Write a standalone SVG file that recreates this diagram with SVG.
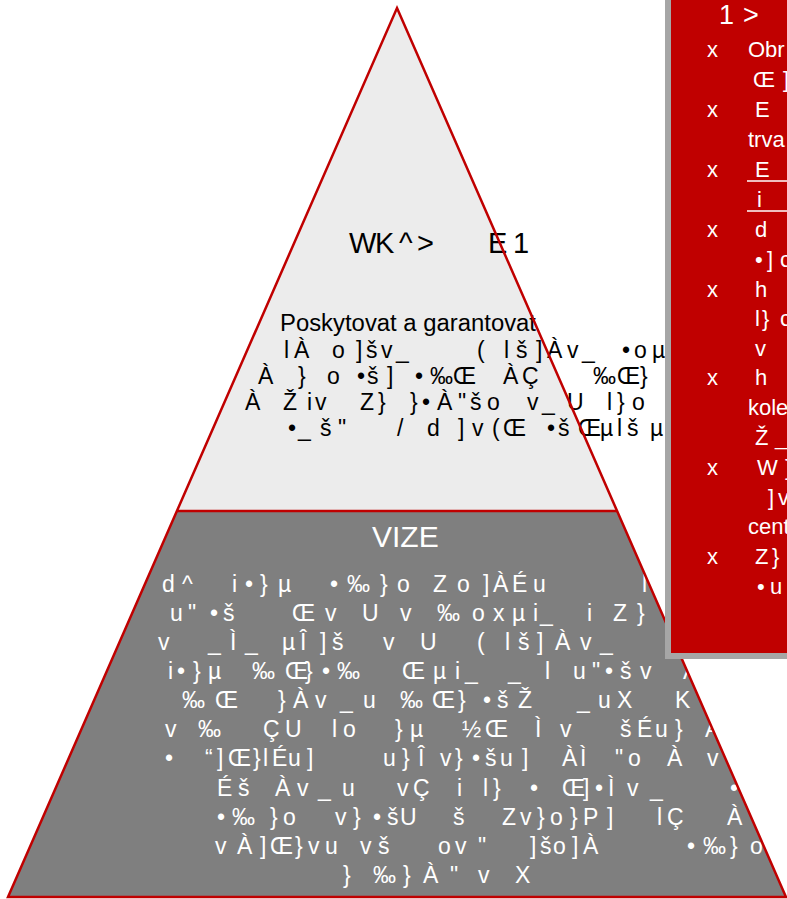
<svg xmlns="http://www.w3.org/2000/svg" width="787" height="899" viewBox="0 0 787 899">
<style>
text{font-family:"Liberation Sans",Arial,sans-serif;font-size:23px}
.k{fill:#000}
.w{fill:#fff}
.ttl{font-size:29px}
.vz{font-size:30px}
.bx{font-size:22px}
.outline{fill:none;stroke:#c00000;stroke-width:2.5;stroke-linejoin:miter}
</style>
<g id="pyramid-fills">
<polygon points="397,8 617,511 177,511" fill="#ececec"/>
<polygon points="177,511 617,511 786,897 8,897" fill="#7f7f7f"/>
</g>
<g id="node-top">
<text class="k ttl" x="349 375 399 417 488 513" y="253">WK^&gt;E1</text>
<text class="k" x="280" y="331" textLength="256" lengthAdjust="spacingAndGlyphs">Poskytovat a garantovat</text>
<text class="k" x="284 294 332 356 366 381 396 477 504 516 536 547 567 582 622 634 652" y="358">lÀo]šv_(lš]Àv_•oµ</text>
<text class="k" x="258 298 327 357 367 387 415 430 453 503 522 593 617 640" y="384">À}o•š]•‰ŒÀÇ‰Œ}</text>
<text class="k" x="245 283 307 315 360 378 410 422 437 458 470 487 527 542 567 607 617 632" y="410">ÀŽivZ}}•À"šov_Ul}o</text>
<text class="k" x="288 298 320 338 397 427 458 472 492 503 547 558 578 600 617 627 650" y="436">•_š"/d]v(Œ•šŒµlšµ</text>
</g>
<g id="node-bottom">
<text class="w vz" x="372" y="547">VIZE</text>
<text class="w" x="162 182 232 245 260 278 330 347 380 397 433 457 483 493 512 533 642" y="592">d^i•}µ•‰}oZo]ÀÉul</text>
<text class="w" x="170 188 210 223 292 325 362 400 437 472 493 512 533 540 587 613 637" y="621">u"•šŒvUv‰oxµi_iZ}</text>
<text class="w" x="158 208 230 245 282 300 320 332 383 420 477 505 518 537 555 580 600" y="650">v_Ì_µÎ]švU(lš]Àv_</text>
<text class="w" x="168 177 193 208 252 285 305 322 337 402 433 455 465 508 545 573 592 605 620 640 683" y="679">i•}µ‰Œ}•‰Œµi__lu"•švÀ</text>
<text class="w" x="182 215 278 293 315 340 363 400 432 458 483 497 518 577 598 617 675" y="708">‰Œ}Àv_u‰Œ}•šŽ_uXK</text>
<text class="w" x="165 198 263 285 332 343 395 410 462 485 535 560 620 637 655 675 705" y="737">v‰ÇUlo}µ½ŒÌvšÉu}À</text>
<text class="w" x="165 205 217 228 253 263 272 288 307 383 402 418 440 455 472 485 500 522 562 580 615 628 667 707" y="766">•“]Œ}lÉu]u}Îv}•šu]ÀÌ"oÀv</text>
<text class="w" x="217 238 275 297 318 342 397 413 457 483 493 530 562 583 595 608 627 650 730" y="796">ÉšÀv_uvÇil}•Œ]•Ìv_•</text>
<text class="w" x="217 232 270 283 335 353 373 387 400 453 502 520 537 550 570 583 607 657 667 727 755" y="825">•‰}ov}•šUšZv}o}P]lÇÀÇ</text>
<text class="w" x="215 237 260 270 295 308 325 360 378 438 455 478 530 540 553 572 583 687 703 730 750" y="854">vÀ]Œ}vuvšov"]šo]À•‰}o</text>
<text class="w" x="343 373 403 423 450 478 515" y="883">}‰}À"vX</text>
</g>
<g id="pyramid-outline">
<polygon class="outline" points="397,8 786,897 8,897"/>
<line class="outline" x1="177" y1="511" x2="617" y2="511"/>
</g>
<g id="node-box">
<rect x="668" y="-10" width="130" height="666" fill="#c00000" stroke="#a6a6a6" stroke-width="6"/>
<text class="w" style="font-size:27px" x="719 743" y="24">1&gt;</text>
<g class="bullets">
<text class="w bx" x="707" y="57">x</text>
<text class="w bx" x="707" y="117">x</text>
<text class="w bx" x="707" y="177">x</text>
<text class="w bx" x="707" y="237">x</text>
<text class="w bx" x="707" y="297">x</text>
<text class="w bx" x="707" y="385">x</text>
<text class="w bx" x="707" y="475">x</text>
<text class="w bx" x="707" y="564">x</text>
</g>
<text class="w bx" x="748" y="57">Obr</text>
<text class="w bx" x="753 783" y="87">Œ]</text>
<text class="w bx" x="755" y="117">E</text>
<text class="w bx" x="748" y="147">trva</text>
<text class="w bx" x="755" y="177">E</text>
<line x1="747" y1="181" x2="790" y2="181" stroke="#fff" stroke-width="1.5"/>
<text class="w bx" x="757" y="207">i</text>
<line x1="747" y1="211" x2="790" y2="211" stroke="#fff" stroke-width="1.5"/>
<text class="w bx" x="755" y="237">d</text>
<text class="w bx" x="755 767 780" y="267">•]c</text>
<text class="w bx" x="755" y="297">h</text>
<text class="w bx" x="755 762 780" y="326">l}c</text>
<text class="w bx" x="755" y="356">v</text>
<text class="w bx" x="755" y="385">h</text>
<text class="w bx" x="748" y="415">kole</text>
<text class="w bx" x="755 775" y="445">Ž_</text>
<text class="w bx" x="757 785" y="475">W}</text>
<text class="w bx" x="768 778" y="505">]v</text>
<text class="w bx" x="748" y="534">cent</text>
<text class="w bx" x="755 772" y="564">Z}</text>
<text class="w bx" x="757 770" y="594">•u</text>
</g>
</svg>
